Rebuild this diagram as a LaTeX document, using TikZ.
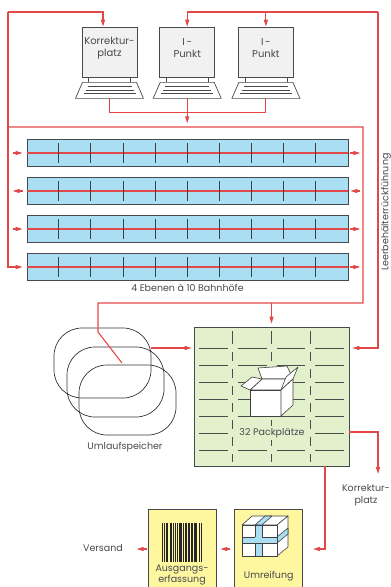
\documentclass[tikz,border=0pt]{standalone}
\usepackage{fontspec}
\setmainfont{Poppins}
\usetikzlibrary{arrows.meta, positioning}

\definecolor{flowred}{RGB}{226,72,72}
\definecolor{railblue}{RGB}{170,222,242}
\definecolor{packgreen}{RGB}{226,240,204}
\definecolor{stationyellow}{RGB}{255,246,160}
\definecolor{screengray}{RGB}{241,241,241}
\definecolor{inkgray}{RGB}{70,74,78}

\begin{document}
\begin{tikzpicture}[
    x=1pt, y=-1pt,
    font=\fontsize{9.5}{11.5}\selectfont,
    text=inkgray,
    screen/.style={rectangle, draw=inkgray, fill=screengray, line width=0.7pt, minimum width=55pt, minimum height=50pt},
    rail/.style={rectangle, draw=inkgray, fill=railblue, line width=0.7pt, minimum width=321pt, minimum height=27pt},
    ring/.style={rectangle, draw=black!80, line width=0.7pt, rounded corners=28pt, minimum width=97pt, minimum height=70pt},
    packarea/.style={rectangle, draw=inkgray, fill=packgreen, line width=0.7pt, minimum width=155pt, minimum height=139pt},
    station/.style={rectangle, draw=inkgray, fill=stationyellow, line width=0.7pt, minimum width=68pt, minimum height=80pt},
    caption/.style={align=center, inner sep=1pt},
    wire/.style={draw=flowred, line width=1.1pt},
    flow/.style={wire, -{Triangle[length=7pt,width=4pt]}},
    slot/.style={draw=black!70, line width=0.6pt},
    icon/.style={draw=black!75, fill=white, line width=0.6pt, line join=round}
]
    \useasboundingbox (0,0) rectangle (391,587);

    % workstations
    \node[screen] (korr) at (109.5,52) {};
    \node[screen, right=22pt of korr] (ipa) {};
    \node[screen, right=23pt of ipa] (ipb) {};
    \foreach \s/\t in {korr/{Korrektur-\\platz}, ipa/{I\,-\\Punkt}, ipb/{I\,-\\Punkt}} {
        \node[caption, font=\fontsize{10}{12}\selectfont] (\s-txt) at ([yshift=4]\s.center) {\t};
        \draw[inkgray, line width=0.7pt] ([xshift=-21]\s.south) -- ++(0,5) ([xshift=21]\s.south) -- ++(0,5);
        \draw[inkgray, fill=white, line width=0.7pt] ([xshift=-27,yshift=-5]\s.south) -- ([xshift=27,yshift=-5]\s.south)
            -- ([xshift=34,yshift=-21]\s.south) -- ([xshift=-34,yshift=-21]\s.south) -- cycle;
        \foreach \d/\w in {9/22,12.5/24,16/26}
            \draw[inkgray, line width=0.6pt] ([xshift=-\w,yshift=-\d]\s.south) -- ([xshift=\w,yshift=-\d]\s.south);
        \coordinate (\s-kb) at ([yshift=-21]\s.south);
    }

    % four levels with ten stations each
    \foreach \i/\yy in {1/153, 2/191, 3/229, 4/267}
        \node[rail] (lvl\i) at (187.5,\yy) {};
    \foreach \i in {1,...,4} {
        \draw[wire, line width=1.3pt] (lvl\i.west) -- (lvl\i.east);
        \foreach \k in {1,...,9}
            \draw[black!75, line width=0.8pt] ([xshift=32.1*\k]lvl\i.west) ++(0,-10) -- ++(0,20);
    }
    \node[caption, below=2pt of lvl4] (ebenen) {4 Ebenen à 10 Bahnhöfe};
    \node[caption, rotate=90] (leer) at (386,212) {Leerbehälterrückführung};

    % circulating buffer
    \node[ring] (ring1) at (102.5,363) {};
    \node[ring] (ring2) at (115.5,382) {};
    \node[ring] (ring3) at (127.5,400) {};
    \node[caption] (umlauf) at (125,447) {Umlaufspeicher};

    % packing area, 4 x 8 places
    \node[packarea] (pack) at (271.5,396.5) {};
    \foreach \r in {348,365,...,450}
        \foreach \c in {0,...,3}
            \draw[slot] (194+38.75*\c+5,\r) -- (194+38.75*\c+33.75,\r);
    \foreach \c in {1,2,3}
        \foreach \a/\b in {327/348,348/365,365/382,382/399,399/416,416/433,433/450,450/466}
            \draw[slot] (194+38.75*\c,\a+4) -- (194+38.75*\c,\b-4);
    % open carton
    \filldraw[icon] (262,379) -- (258,368) -- (287,366) -- (293,379) -- cycle;
    \filldraw[icon] (250,390) -- (281,390) -- (293,379) -- (262,379) -- cycle;
    \filldraw[icon] (281,390) -- (293,379) -- (298,367) -- (286,377) -- cycle;
    \filldraw[icon] (250,390) -- (262,379) -- (252,377) -- (241,386) -- cycle;
    \filldraw[icon] (250,390) rectangle (281,416);
    \filldraw[icon] (281,390) -- (293,379) -- (293,405) -- (281,416) -- cycle;
    \node[caption, fill=packgreen, inner sep=2pt] (plaetze) at (272,433) {32 Packplätze};

    % shipping stations
    \node[station] (ausg) at (182,549) {};
    \node[station, right=18pt of ausg] (umr) {};
    \foreach \x/\w in {162/1, 164/0.6, 165.5/0.6, 167/1.2, 169.5/0.6, 171/0.6, 172.5/1.4, 175/0.6,
                       176.5/0.8, 178.5/0.6, 180/1.6, 183/0.6, 184.5/0.6, 186/1, 188/2, 191/1.6,
                       193.5/0.6, 195/2.2, 198.5/1.2, 200.5/1.5}
        \fill[black!85] (\x,523) rectangle ++(\w,39);
    \node[caption, font=\fontsize{9.5}{10.5}\selectfont] (ausgtxt) at ([yshift=-26]ausg.center) {Ausgangs-\\erfassung};
    % strapped parcel
    \filldraw[icon] (242,525) -- (252,516) -- (288,516) -- (277,525) -- cycle;
    \filldraw[icon] (277,525) -- (288,516) -- (288,547) -- (277,556) -- cycle;
    \filldraw[icon] (242,525) rectangle (277,556);
    \filldraw[icon, fill=railblue] (255,525) -- (265,516) -- (272,516) -- (262,525) -- cycle;
    \filldraw[icon, fill=railblue] (277,537) -- (288,528) -- (288,534) -- (277,543) -- cycle;
    \filldraw[icon, fill=railblue] (255,525) rectangle (262,556);
    \filldraw[icon, fill=railblue] (242,537) rectangle (277,543);
    \fill[railblue] (255.4,537.4) rectangle (261.6,542.6);
    \node[caption] (umrtxt) at ([yshift=-27]umr.center) {Umreifung};

    \node[caption] (versand) at (103,548) {Versand};
    \node[caption] (korrtxt) at (366,495) {Korrektur-\\platz};

    % conveyor lines
    \coordinate (tl) at (8,12);
    \coordinate (tr) at (378,12);
    \coordinate (bus) at (8,127);
    \coordinate (drop) at (363,303);
    \coordinate (feed) at (98,332);
    \coordinate (ret) at (378,348);
    \coordinate (ringout) at ([yshift=15]ring1.east);
    \coordinate (packout) at ([xshift=53.5]pack.south);
    \coordinate (korrend) at (378,474);

    \draw[flow] (tl) -| ([xshift=-6.5]korr.north);
    \draw[flow] (tl) |- ([xshift=-4]lvl4.west);
    \draw[flow] (tr) -| (ipa.north);
    \draw[flow] (ipb.north |- tr) -- (ipb.north);
    \draw[flow, shorten >=3] (tr) -- (ret) -- (ret -| pack.east);

    \draw[wire] (korr-kb) -- ++(0,14) -| (ipb-kb);
    \draw[flow] (ipa-kb) -- ++(0,25);

    \foreach \i in {1,3}
        \draw[flow] ([xshift=-14]lvl\i.west) -- ([xshift=-4]lvl\i.west);
    \foreach \i in {1,3,4}
        \draw[flow] ([xshift=2]lvl\i.east) -- ([xshift=12]lvl\i.east);
    \draw[flow] ([xshift=-4]lvl2.west) -- ([xshift=-14]lvl2.west);
    \draw[flow] ([xshift=12]lvl2.east) -- ([xshift=2]lvl2.east);

    \draw[wire] (bus) -| (drop) -| (feed) -- ([xshift=19.5]ring1.center);
    \draw[flow, shorten >=3] (pack.north |- drop) -- (pack.north);
    \draw[flow, shorten >=2] (ringout) -- (ringout -| pack.west);

    \draw[flow] ([yshift=-35.5]pack.east) -| (korrend);
    \draw[flow, shorten >=10] (packout) |- (umr.east);
    \draw[flow, shorten <=4, shorten >=4] (umr.west) -- (ausg.east);
    \draw[flow, shorten <=1] (ausg.west) -- ++(-11,0);
\end{tikzpicture}
\end{document}
